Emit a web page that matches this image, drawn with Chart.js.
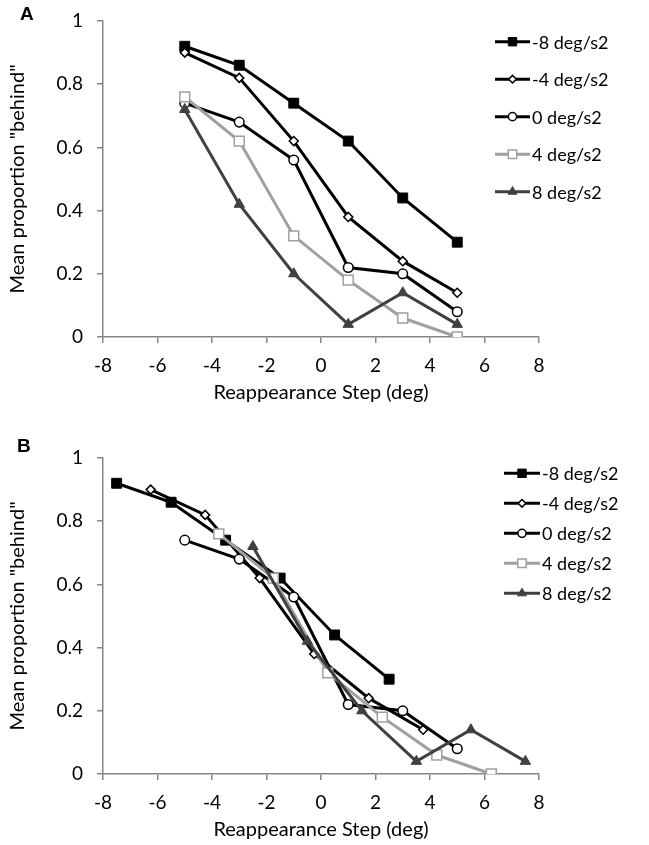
<!DOCTYPE html>
<html>
<head>
<meta charset="utf-8">
<script src="https://cdn.jsdelivr.net/npm/chart.js@4.4.0/dist/chart.umd.min.js"></script>
<style>
    body { margin: 0; background: #fff; width: 649px; height: 845px; position: relative; overflow: hidden; }
    .panel { position: absolute; left: 0; width: 649px; height: 408px; }
    .tag { position: absolute; font: bold 19px "Liberation Sans", Arial, sans-serif; color: #000; }
</style>
</head>
<body>
<div class="panel" style="top:0"><canvas id="chartA"></canvas></div>
<div class="panel" style="top:437px"><canvas id="chartB"></canvas></div>
<div class="tag" style="left:20px;top:3px">A</div>
<div class="tag" style="left:17px;top:435px">B</div>
<script>
// series names
const seriesLabels = ['-8 deg/s2', '-4 deg/s2', '0 deg/s2', '4 deg/s2', '8 deg/s2'];

// panel A: all series share the same steps
const stepsA = [-5, -3, -1, 1, 3, 5];
const valsMinus8 = [0.92, 0.86, 0.74, 0.62, 0.44, 0.30];
const valsMinus4 = [0.90, 0.82, 0.62, 0.38, 0.24, 0.14];
const valsZero   = [0.74, 0.68, 0.56, 0.22, 0.20, 0.08];
const valsPlus4  = [0.76, 0.62, 0.32, 0.18, 0.06, 0.00];
const valsPlus8  = [0.72, 0.42, 0.20, 0.04, 0.14, 0.04];

// panel B: shifted steps per series
const stepsBMinus8 = [-7.5, -5.5, -3.5, -1.5, 0.5, 2.5];
const stepsBMinus4 = [-6.25, -4.25, -2.25, -0.25, 1.75, 3.75];
const stepsBZero   = [-5, -3, -1, 1, 3, 5];
const stepsBPlus4  = [-3.75, -1.75, 0.25, 2.25, 4.25, 6.25];
const stepsBPlus8  = [-2.5, -0.5, 1.5, 3.5, 5.5, 7.5];

// tick labels
const xTickValues = [-8, -6, -4, -2, 0, 2, 4, 6, 8];
const yTickValues = [0, 0.2, 0.4, 0.6, 0.8, 1];

const FONT = 'Lato';
const AXIS_GREY = '#868686';

// look of each series
const looks = [
    { line: '#000000', style: 'rect',     radius: 7,   fill: '#000000', edge: '#000000', edgeW: 1 },
    { line: '#000000', style: 'rectRot',  radius: 4.5, fill: '#ffffff', edge: '#000000', edgeW: 1.5 },
    { line: '#000000', style: 'circle',   radius: 4.8, fill: '#ffffff', edge: '#000000', edgeW: 1.5 },
    { line: '#a0a0a0', style: 'rect',     radius: 7,   fill: '#ffffff', edge: '#a0a0a0', edgeW: 1.5 },
    { line: '#404040', style: 'triangle', radius: 6,   fill: '#404040', edge: '#404040', edgeW: 1 }
];

function pairUp(xs, ys) {
    return xs.map((x, i) => ({ x: x, y: ys[i] }));
}

function makeDatasets(xsList, ysList) {
    return seriesLabels.map((label, i) => ({
        label: label,
        data: pairUp(xsList[i], ysList[i]),
        borderColor: looks[i].line,
        borderWidth: 3,
        pointStyle: looks[i].style,
        pointRadius: looks[i].radius,
        pointBackgroundColor: looks[i].fill,
        pointBorderColor: looks[i].edge,
        pointBorderWidth: looks[i].edgeW,
        tension: 0,
        order: seriesLabels.length - 1 - i
    }));
}

// legend drawn as line + marker + text, like the spreadsheet one
const lineLegend = {
    id: 'lineLegend',
    afterDraw(chart, args, opts) {
        const ctx = chart.ctx;
        chart.data.datasets.forEach((ds, i) => {
            const y = opts.top + i * opts.gap;
            ctx.save();
            ctx.strokeStyle = ds.borderColor;
            ctx.lineWidth = 3;
            ctx.beginPath();
            ctx.moveTo(opts.x0, y);
            ctx.lineTo(opts.x1, y);
            ctx.stroke();
            ctx.fillStyle = ds.pointBackgroundColor;
            ctx.strokeStyle = ds.pointBorderColor;
            ctx.lineWidth = ds.pointBorderWidth;
            Chart.helpers.drawPoint(ctx, {
                pointStyle: ds.pointStyle,
                radius: ds.pointRadius * 0.85,
                borderWidth: ds.pointBorderWidth,
                rotation: 0
            }, (opts.x0 + opts.x1) / 2, y);
            ctx.fillStyle = '#000';
            ctx.font = '18px ' + FONT;
            ctx.textBaseline = 'middle';
            ctx.textAlign = 'left';
            ctx.fillText(ds.label, opts.x1 + 2, y + 1);
            ctx.restore();
        });
    }
};

function makeChart(canvasId, datasets, legendOpts) {
    return new Chart(document.getElementById(canvasId), {
        type: 'line',
        data: { datasets: datasets },
        plugins: [lineLegend],
        options: {
            responsive: true,
            maintainAspectRatio: false,
            animation: false,
            events: [],
            layout: { padding: { top: 21, right: 110, bottom: 1, left: 0 } },
            plugins: {
                legend: { display: false },
                tooltip: { enabled: false },
                lineLegend: legendOpts
            },
            scales: {
                x: {
                    type: 'linear',
                    min: -8,
                    max: 8,
                    afterBuildTicks: (axis) => { axis.ticks = xTickValues.map(v => ({ value: v })); },
                    afterFit: (axis) => { axis.height = 70; axis.paddingLeft = 0; axis.paddingRight = 0; },
                    border: { display: true, color: AXIS_GREY, width: 1.5 },
                    grid: { drawOnChartArea: false, drawTicks: true, tickLength: 6, color: AXIS_GREY, lineWidth: 1.5 },
                    ticks: {
                        color: '#000', font: { family: FONT, size: 19 }, padding: 11,
                        maxRotation: 0, autoSkip: false,
                        callback: (v) => String(v)
                    },
                    title: {
                        display: true,
                        text: 'Reappearance Step (deg)',
                        color: '#000',
                        font: { family: FONT, size: 20 },
                        padding: { top: 0, bottom: 2 }
                    }
                },
                y: {
                    min: 0,
                    max: 1,
                    afterBuildTicks: (axis) => { axis.ticks = yTickValues.map(v => ({ value: v })); },
                    afterFit: (axis) => { axis.width = 103; axis.paddingTop = 0; axis.paddingBottom = 0; },
                    border: { display: true, color: AXIS_GREY, width: 1.5 },
                    grid: { drawOnChartArea: false, drawTicks: true, tickLength: 6, color: AXIS_GREY, lineWidth: 1.5 },
                    ticks: {
                        color: '#000', font: { family: FONT, size: 19 }, padding: 14,
                        callback: (v) => String(v)
                    },
                    title: {
                        display: true,
                        text: 'Mean proportion "behind"',
                        color: '#000',
                        font: { family: FONT, size: 20 },
                        padding: { top: 6, bottom: 0 }
                    }
                }
            }
        }
    });
}

makeChart('chartA',
    makeDatasets([stepsA, stepsA, stepsA, stepsA, stepsA],
                 [valsMinus8, valsMinus4, valsZero, valsPlus4, valsPlus8]),
    { x0: 495, x1: 530, top: 41.7, gap: 37.5 });

makeChart('chartB',
    makeDatasets([stepsBMinus8, stepsBMinus4, stepsBZero, stepsBPlus4, stepsBPlus8],
                 [valsMinus8, valsMinus4, valsZero, valsPlus4, valsPlus8]),
    { x0: 504, x1: 540, top: 36.3, gap: 30 });
</script>
</body>
</html>
